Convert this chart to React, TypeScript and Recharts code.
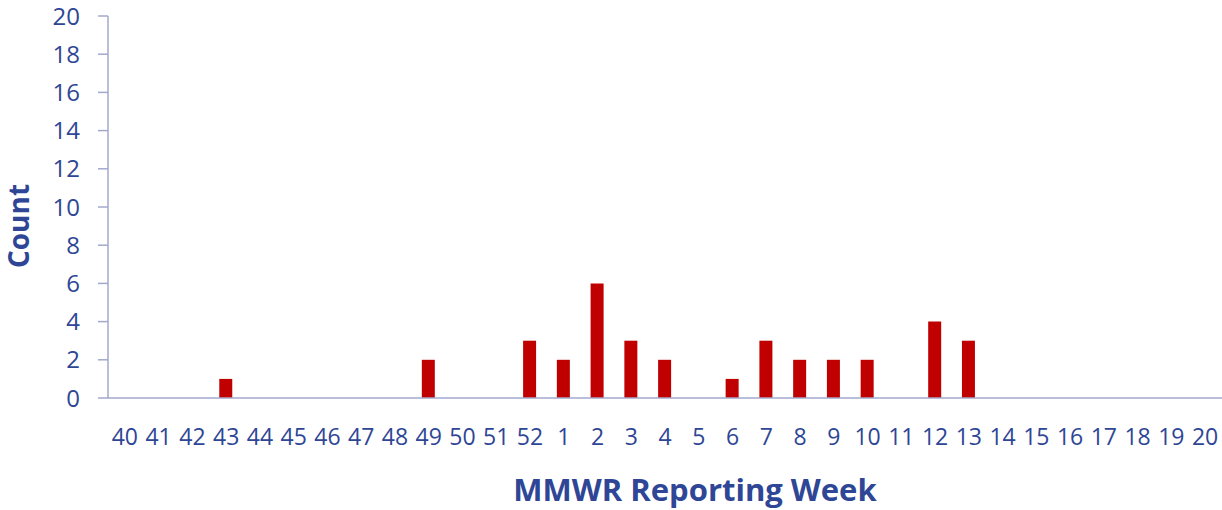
import React from 'react';
import { BarChart, Bar, XAxis, YAxis, Label } from 'recharts';

const weeks: string[] = ['40','41','42','43','44','45','46','47','48','49','50','51','52','1','2','3','4','5','6','7','8','9','10','11','12','13','14','15','16','17','18','19','20'];
const counts: number[] = [0,0,0,1,0,0,0,0,0,2,0,0,3,2,6,3,2,0,1,3,2,2,2,0,4,3,0,0,0,0,0,0,0];
const yTicks: number[] = [0,2,4,6,8,10,12,14,16,18,20];

const data = weeks.map((w, i) => ({ week: w, count: counts[i] }));

const TEXT = '#2E4695';
const AXIS = '#A3A9CC';
const BAR = '#C00000';
const FONT = '"Open Sans", "Noto Sans", sans-serif';

export default function App() {
  return (
    <div style={{ position: 'absolute', left: 0, top: 0, width: 1222, height: 510, background: '#fff' }}>
      <BarChart width={1222} height={510} data={data} margin={{ top: 16, right: 0, left: 0, bottom: 0 }} barCategoryGap={0}>
        <XAxis
          dataKey="week"
          height={112}
          interval={0}
          tickLine={false}
          tickSize={0}
          tickMargin={31}
          axisLine={{ stroke: AXIS, strokeWidth: 1.5 }}
          tick={{ fill: TEXT, fontSize: 23, fontFamily: FONT }}
        >
          <Label
            content={() => (
              <text x={695} y={501} textAnchor="middle" fill={TEXT} fontSize={31} fontWeight={700} fontFamily={FONT}>
                MMWR Reporting Week
              </text>
            )}
          />
        </XAxis>
        <YAxis
          width={108}
          domain={[0, 20]}
          ticks={yTicks}
          interval={0}
          tickSize={10}
          tickMargin={18}
          axisLine={{ stroke: AXIS, strokeWidth: 1.5 }}
          tickLine={{ stroke: AXIS, strokeWidth: 1.5 }}
          tick={{ fill: TEXT, fontSize: 24, fontFamily: FONT }}
        >
          <Label
            content={() => (
              <text x={29} y={226} transform="rotate(-90, 29, 226)" textAnchor="middle" fill={TEXT} fontSize={28} fontWeight={700} fontFamily={FONT}>
                Count
              </text>
            )}
          />
        </YAxis>
        <Bar dataKey="count" fill={BAR} barSize={13} isAnimationActive={false} />
      </BarChart>
    </div>
  );
}
